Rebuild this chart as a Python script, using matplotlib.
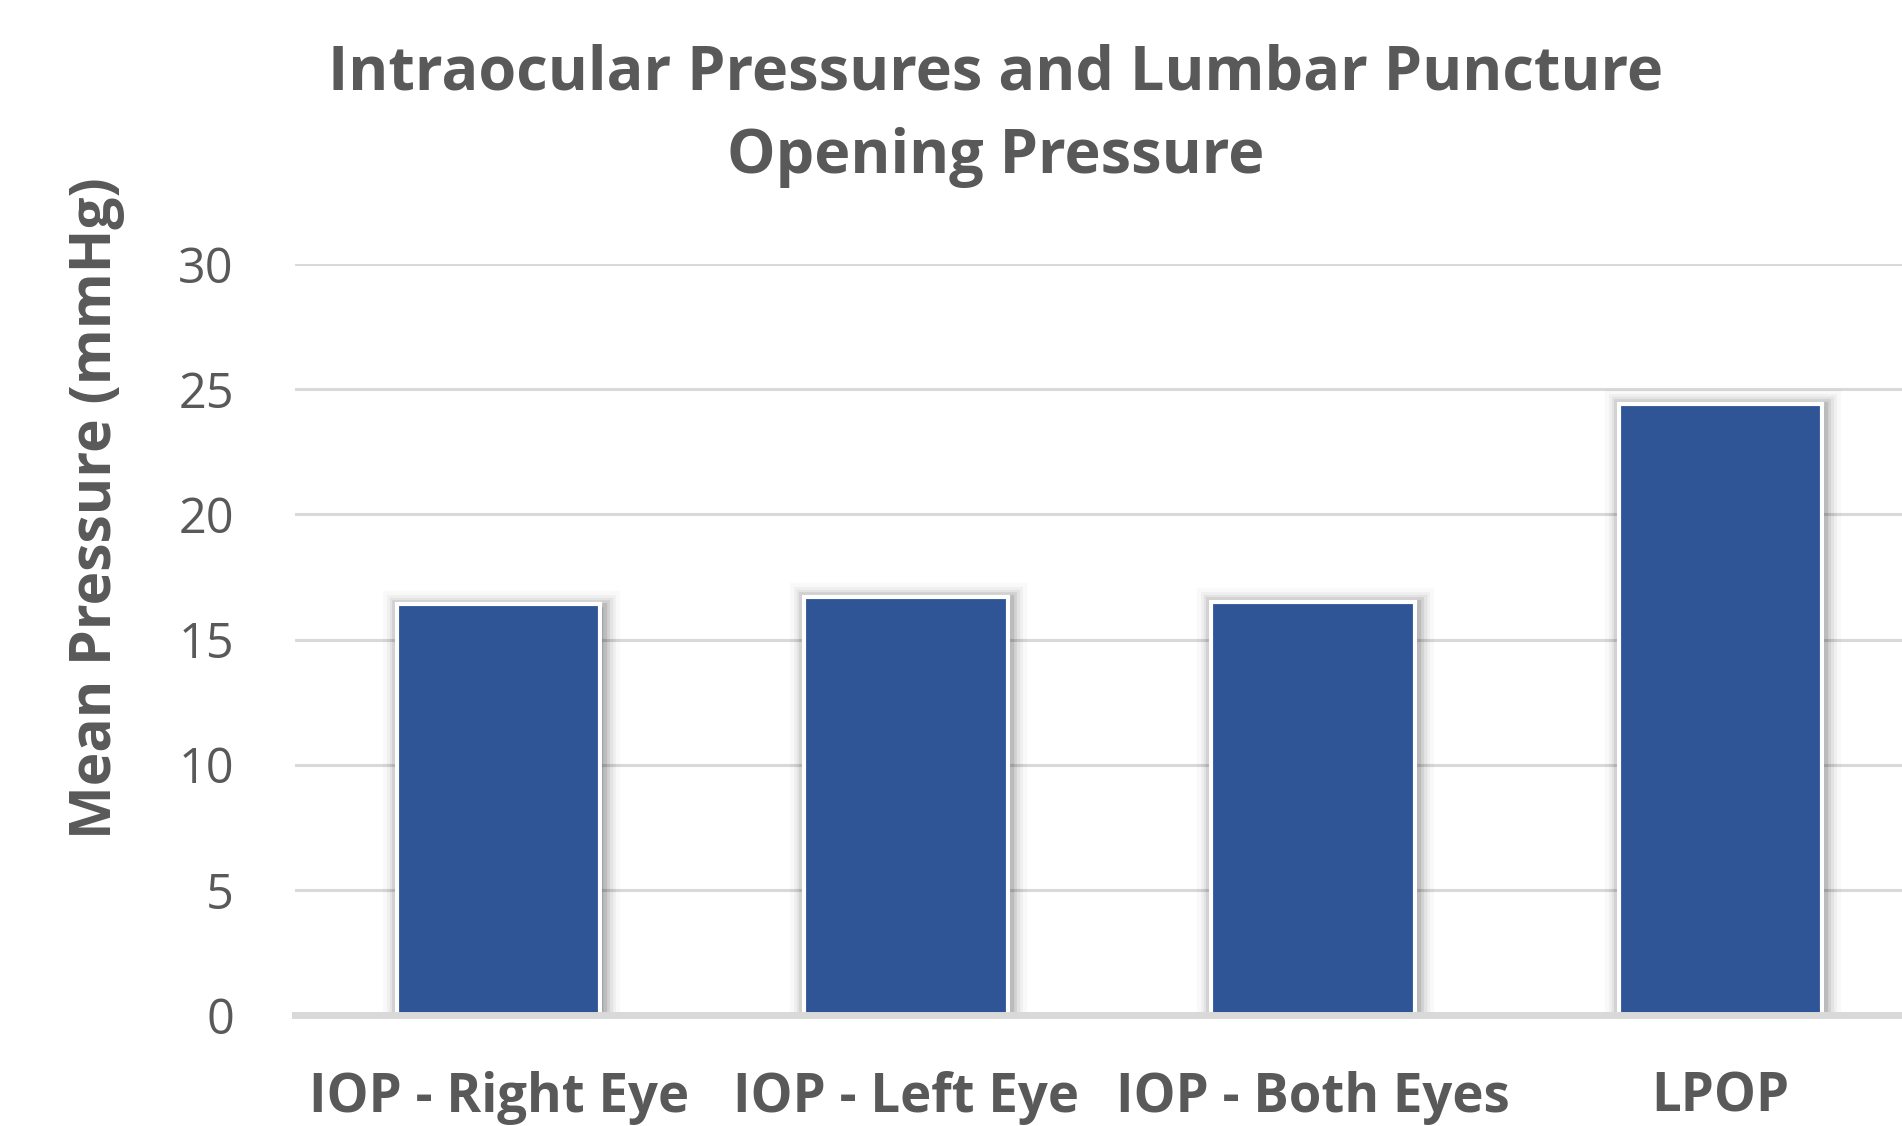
import matplotlib
matplotlib.use('Agg')
import matplotlib.pyplot as plt
import matplotlib.patheffects as pe

categories = ['IOP - Right Eye', 'IOP - Left Eye', 'IOP - Both Eyes', 'LPOP']
mean_pressure = [16.4, 16.7, 16.5, 24.4]
yticks = [0, 5, 10, 15, 20, 25, 30]

plt.rcParams['font.family'] = ['Open Sans', 'DejaVu Sans']
grey = '#595959'

fig = plt.figure(figsize=(19.02, 11.26), dpi=100)
# plot area runs off the right edge, like the source image
ax = fig.add_axes([295 / 1902, 1 - 1015 / 1126, 1629 / 1902, 751 / 1126])

shadow = [pe.Stroke(linewidth=w, foreground='#000000', alpha=a, offset=(1.5, -1.5))
          for w, a in [(24, 0.025), (18, 0.035), (14, 0.05), (10, 0.07), (6, 0.1)]]
shadow.append(pe.Normal())

x = range(len(categories))
bars = ax.bar(x, mean_pressure, width=0.5, color='#2F5597', edgecolor='white',
              linewidth=3, zorder=3)
for b in bars:
    b.set_path_effects(shadow)

ax.set_xlim(-0.5, 3.5)
ax.set_ylim(0, 30)
ax.set_yticks(yticks)
ax.set_xticks(list(x))
ax.set_xticklabels(categories, fontsize=38, fontweight='bold', color=grey)
ax.tick_params(axis='x', length=0, pad=40)
ax.tick_params(axis='y', length=0, pad=44, labelsize=35, labelcolor=grey)

ax.grid(axis='y', color='#d9d9d9', linewidth=2.2, zorder=0)
ax.set_axisbelow(True)
for s in ['top', 'right', 'left']:
    ax.spines[s].set_visible(False)
ax.spines['bottom'].set_color('#d9d9d9')
ax.spines['bottom'].set_linewidth(5)
ax.spines['bottom'].set_zorder(4)

ax.set_ylabel('Mean Pressure (mmHg)', fontsize=41, fontweight='bold', color=grey)
ax.yaxis.set_label_coords(-170 / 1629, 0.675)

fig.text(996 / 1902, 1 - 116 / 1126, 'Intraocular Pressures and Lumbar Puncture\nOpening Pressure',
         ha='center', va='center', fontsize=44, fontweight='bold', color=grey, linespacing=1.48)

fig.savefig('out.png', dpi=100)
